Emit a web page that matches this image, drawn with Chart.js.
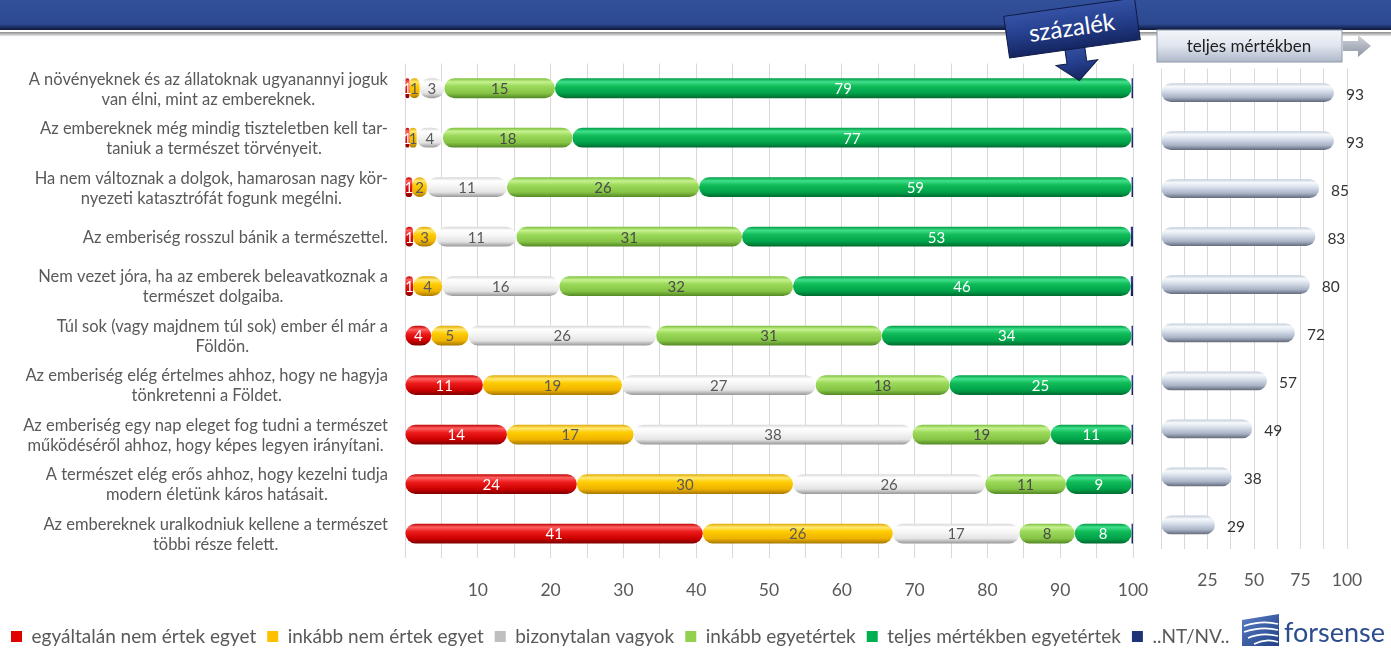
<!DOCTYPE html>
<html><head><meta charset="utf-8">
<script src="https://cdn.jsdelivr.net/npm/chart.js@4"></script>
<style>
html,body{margin:0;padding:0;background:#fff;}
#wrap{position:relative;width:1391px;height:648px;overflow:hidden;font-family:Lato,'Open Sans',sans-serif;}
#c1{position:absolute;left:0;top:0;}
#c2{position:absolute;left:1140px;top:0;}
.deco{position:absolute;left:0;top:0;pointer-events:none;}
</style></head>
<body><div id="wrap">
<canvas id="c1" width="1391" height="648"></canvas>
<canvas id="c2" width="251" height="620"></canvas>
<svg class="deco" width="1391" height="648" xmlns="http://www.w3.org/2000/svg">
<defs>
<linearGradient id="band" x1="0" y1="0" x2="0" y2="1">
<stop offset="0" stop-color="#31509a"/><stop offset="0.8" stop-color="#2d4a90"/><stop offset="0.9" stop-color="#1c2e66"/><stop offset="1" stop-color="#0e1838"/>
</linearGradient>
<linearGradient id="gline" x1="0" y1="0" x2="0" y2="1">
<stop offset="0" stop-color="#8c8c8c"/><stop offset="1" stop-color="#e6e6e6"/>
</linearGradient>
<linearGradient id="navy" x1="0" y1="0" x2="0" y2="1">
<stop offset="0" stop-color="#3552a6"/><stop offset="0.5" stop-color="#253f8c"/><stop offset="1" stop-color="#142560"/>
</linearGradient>
<linearGradient id="tbox" x1="0" y1="0" x2="0" y2="1">
<stop offset="0" stop-color="#f4f6fa"/><stop offset="0.5" stop-color="#dfe4ee"/><stop offset="1" stop-color="#aeb8c9"/>
</linearGradient>
<linearGradient id="garrow" x1="0" y1="0" x2="0" y2="1">
<stop offset="0" stop-color="#d0d4db"/><stop offset="1" stop-color="#8e95a2"/>
</linearGradient>
<linearGradient id="logo" x1="0" y1="0" x2="1" y2="1">
<stop offset="0" stop-color="#5b7fc4"/><stop offset="1" stop-color="#1f3f86"/>
</linearGradient>
</defs>
<rect x="0" y="0" width="1391" height="30" fill="url(#band)"/>
<rect x="0" y="32" width="1391" height="4" fill="url(#gline)"/>
<g transform="rotate(-8 1072 28)">
<path d="M1062 44 L1062 63 L1051 63 L1072 81 L1093 63 L1082 63 L1082 44 Z" fill="url(#navy)" stroke="#0f1a45" stroke-width="1"/>
<rect x="1006" y="7" width="132" height="42" fill="url(#navy)" stroke="#0f1a45" stroke-width="1"/>
<text x="1072" y="36" fill="#ffffff" font-size="24" text-anchor="middle" font-family="Lato, sans-serif">százalék</text>
</g>
<rect x="1157" y="30" width="185" height="32" fill="url(#tbox)" stroke="#8f99ab" stroke-width="1"/>
<text x="1249" y="52" fill="#1e1e1e" font-size="17" text-anchor="middle" font-family="Lato, sans-serif">teljes mértékben</text>
<path d="M1343 41 L1358 41 L1358 35 L1371 46 L1358 57 L1358 51 L1343 51 Z" fill="url(#garrow)"/>
<g>
<path d="M1242 620 L1279 614 L1279 646 L1242 646 Z" fill="url(#logo)"/>
<path d="M1244 626 Q1262 620 1278 624" stroke="#fff" stroke-width="1.6" fill="none"/>
<path d="M1244 632 Q1262 626 1278 630" stroke="#fff" stroke-width="1.6" fill="none"/>
<path d="M1248 638 Q1262 632 1278 636" stroke="#fff" stroke-width="1.6" fill="none"/>
<path d="M1254 644 Q1266 638 1278 642" stroke="#fff" stroke-width="1.6" fill="none"/>
</g>
<text x="1284" y="642" fill="#2b4d8e" font-size="27" font-family="Lato, sans-serif">forsense</text>
</svg>
</div>
<script>
const categories = [
 ["A növényeknek és az állatoknak ugyanannyi joguk","van élni, mint az embereknek."],
 ["Az embereknek még mindig tiszteletben kell tar-","taniuk a természet törvényeit."],
 ["Ha nem változnak a dolgok, hamarosan nagy kör-","nyezeti katasztrófát fogunk megélni."],
 ["Az emberiség rosszul bánik a természettel."],
 ["Nem vezet jóra, ha az emberek beleavatkoznak a","természet dolgaiba."],
 ["Túl sok (vagy majdnem túl sok) ember él már a","Földön."],
 ["Az emberiség elég értelmes ahhoz, hogy ne hagyja","tönkretenni a Földet."],
 ["Az emberiség egy nap eleget fog tudni a természet","működéséről ahhoz, hogy képes legyen irányítani."],
 ["A természet elég erős ahhoz, hogy kezelni tudja","modern életünk káros hatásait."],
 ["Az embereknek uralkodniuk kellene a természet","többi része felett."]
];
const seriesNames = ["egyáltalán nem értek egyet","inkább nem értek egyet","bizonytalan vagyok","inkább egyetértek","teljes mértékben egyetértek","..NT/NV.."];
const disagreeStrongly = [0.6,0.6,1.0,1.1,1.1,3.6,10.7,14.0,23.6,40.9];
const disagree         = [1.4,1.0,2.0,3.2,4.0,5.1,19.1,17.4,29.7,26.1];
const unsure           = [3.4,3.6,11.0,11.0,16.1,25.8,26.6,38.3,26.4,17.4];
const agree            = [15.2,17.8,26.4,31.0,32.1,31.0,18.4,19.0,11.1,7.6];
const agreeStrongly    = [79.2,76.8,59.4,53.4,46.4,34.3,25.0,11.1,9.0,7.8];
const noAnswer         = [0.2,0.2,0.2,0.3,0.3,0.2,0.2,0.2,0.2,0.2];
const totalAgree       = [93,93,85,83,80,72,57,49,38,29];
const leftTicks  = [10,20,30,40,50,60,70,80,90,100];
const rightTicks = [25,50,75,100];

const FONT = 'Lato, "Open Sans", sans-serif';
const stops = [0,0.18,0.4,0.75,1];
const pal = {
 red:   {base:'#e00000', g:['#c00000','#ff6262','#ee1c1c','#cc0000','#7d0000']},
 yel:   {base:'#ffc000', g:['#e0a800','#ffe870','#ffcc00','#efb300','#a67800']},
 wht:   {base:'#bfbfbf', g:['#d6d6d6','#ffffff','#f7f7f7','#e4e4e4','#979797']},
 lgr:   {base:'#92d050', g:['#7cbf3c','#c6f290','#9bd95a','#86c446','#538824']},
 dgr:   {base:'#00b050', g:['#009a44','#40e08b','#10bb58','#00a24a','#006a2f']},
 nav:   {base:'#1f3377', g:['#1f3377','#2c4590','#1f3377','#1a2c66','#101c48']},
 gry:   {base:'#c8d0dd', g:['#c4ccda','#f6f8fc','#dbe2ed','#aab4c6','#626b7c']}
};
const legendColors = [pal.red.base, pal.yel.base, pal.wht.base, pal.lgr.base, pal.dgr.base, pal.nav.base];
function fill(p, barPct){
 return function(ctx){
  const chart = ctx.chart;
  if (ctx.type !== 'data' || !chart.chartArea || !chart.scales.y) return p.base;
  const ys = chart.scales.y;
  const yc = ys.getPixelForTick(ctx.dataIndex);
  const h = (ys.height / categories.length) * barPct;
  const g = chart.ctx.createLinearGradient(0, yc - h/2, 0, yc + h/2);
  p.g.forEach((c,i)=>g.addColorStop(stops[i], c));
  return g;
 };
}
const R = 10;
const radius = {topLeft:R, topRight:R, bottomLeft:R, bottomRight:R};
const BP = 0.4;
function ds(label, data, p, labelColor){
 return {label, data, backgroundColor: fill(p, BP), borderRadius: radius, borderSkipped:false,
   barPercentage:BP, categoryPercentage:1, labelColor};
}

const segLabels = {
 id:'segLabels',
 afterDatasetsDraw(chart){
  const c = chart.ctx; c.save();
  c.font = '15px ' + FONT; c.textAlign='center'; c.textBaseline='middle';
  chart.data.datasets.forEach((d,i)=>{
   if (!d.labelColor) return;
   chart.getDatasetMeta(i).data.forEach((bar,j)=>{
    const {x,base,y} = bar.getProps(['x','base','y'], true);
    c.fillStyle = d.labelColor;
    c.fillText(String(Math.round(d.data[j])), (x+base)/2, y+1);
   });
  });
  c.restore();
 }
};
const catLabels = {
 id:'catLabels',
 afterDraw(chart){
  const ys = chart.scales.y, c = chart.ctx; c.save();
  c.font = '16.5px ' + FONT; c.fillStyle='#595959'; c.textAlign='center'; c.textBaseline='middle';
  categories.forEach((lines,i)=>{
   const yc = ys.getPixelForTick(i);
   const w = Math.max(...lines.map(l=>c.measureText(l).width));
   const cx = 388 - w/2;
   lines.forEach((l,k)=>c.fillText(l, cx, yc + (k-(lines.length-1)/2)*20 + 1));
  });
  c.restore();
 }
};

new Chart(document.getElementById('c1'), {
 type:'bar',
 data:{
  labels: categories.map(l=>l.join(' ')),
  datasets:[
   ds(seriesNames[0], disagreeStrongly, pal.red, '#ffffff'),
   ds(seriesNames[1], disagree, pal.yel, '#595959'),
   ds(seriesNames[2], unsure, pal.wht, '#595959'),
   ds(seriesNames[3], agree, pal.lgr, '#4a4a4a'),
   ds(seriesNames[4], agreeStrongly, pal.dgr, '#ffffff'),
   Object.assign(ds(seriesNames[5], noAnswer, pal.nav, null), {borderRadius:0})
  ]
 },
 options:{
  indexAxis:'y', responsive:false, animation:false, devicePixelRatio:1,
  layout:{padding:{top:63.5, bottom:-8, left:0, right:0}},
  scales:{
   x:{stacked:true, min:0, max:100,
      ticks:{stepSize:5, autoSkip:false, maxRotation:0, padding:22, color:'#595959', font:{size:17.5, family:FONT},
             callback:v=>leftTicks.includes(v)?String(v):''},
      grid:{color:'#d9d9d9', drawTicks:false}, border:{display:false},
      afterFit:s=>{s.height=57.7;}},
   y:{stacked:true, ticks:{display:false}, grid:{display:false}, border:{display:false}, afterFit:s=>{s.width=405;}},
   yr:{type:'category', position:'right', ticks:{display:false}, grid:{display:false}, border:{display:false}, afterFit:s=>{s.width=258;}}
  },
  plugins:{
   legend:{position:'bottom', align:'start',
     labels:{boxWidth:11, boxHeight:11, padding:11, color:'#595959', font:{size:19, family:FONT},
       generateLabels:(chart)=>Chart.defaults.plugins.legend.labels.generateLabels(chart).map((it,i)=>Object.assign(it,{fillStyle:legendColors[i], strokeStyle:legendColors[i], lineWidth:0}))}},
   tooltip:{enabled:false}
  }
 },
 plugins:[segLabels, catLabels]
});

const valLabels = {
 id:'valLabels',
 afterDatasetsDraw(chart){
  const c = chart.ctx; c.save();
  c.font = '15.5px ' + FONT; c.fillStyle='#333333'; c.textAlign='left'; c.textBaseline='middle';
  chart.getDatasetMeta(0).data.forEach((bar,j)=>{
   const {x,y} = bar.getProps(['x','y'], true);
   c.fillText(String(totalAgree[j]), x + 12, y + 2);
  });
  c.restore();
 }
};
new Chart(document.getElementById('c2'), {
 type:'bar',
 data:{labels: categories.map(l=>l.join(' ')),
  datasets:[{label:'teljes mértékben', data: totalAgree, backgroundColor: fill(pal.gry, 0.39),
   borderRadius: radius, borderSkipped:false, barPercentage:0.39, categoryPercentage:1}]},
 options:{
  indexAxis:'y', responsive:false, animation:false, devicePixelRatio:1,
  layout:{padding:{top:68.5, left:18, right:44, bottom:0}},
  scales:{
   x:{min:0, max:100,
      ticks:{stepSize:12.5, autoSkip:false, maxRotation:0, padding:21, color:'#595959', font:{size:17.5, family:FONT},
             callback:v=>rightTicks.includes(v)?String(v):''},
      grid:{color:'#d9d9d9', drawTicks:false}, border:{display:false},
      afterFit:s=>{s.height=71;}},
   y:{display:false}
  },
  plugins:{legend:{display:false}, tooltip:{enabled:false}}
 },
 plugins:[valLabels]
});
</script>
</body></html>
